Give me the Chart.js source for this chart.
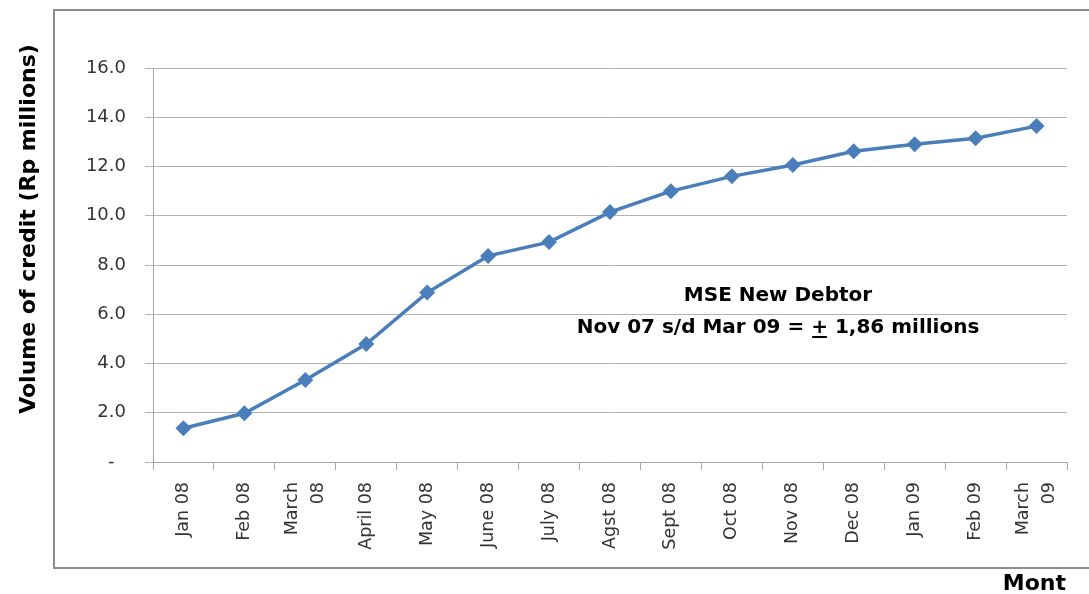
<!DOCTYPE html>
<html>
<head>
<meta charset="utf-8">
<script src="https://cdn.jsdelivr.net/npm/chart.js@4/dist/chart.umd.min.js"></script>
<style>
  html, body { margin: 0; padding: 0; background: #ffffff; }
  #wrap { width: 1089px; height: 594px; position: relative; }
</style>
</head>
<body>
<div id="wrap"><canvas id="c" width="1089" height="594"></canvas></div>
<script>
const categories = ['Jan 08', 'Feb 08', ['March', '08'], 'April 08', 'May 08', 'June 08', 'July 08',
  'Agst 08', 'Sept 08', 'Oct 08', 'Nov 08', 'Dec 08', 'Jan 09', 'Feb 09', ['March', '09']];
const creditVolume = [1.37, 1.98, 3.33, 4.79, 6.88, 8.37, 8.93, 10.15, 11.0, 11.6, 12.06, 12.62, 12.9, 13.15, 13.64];
const yTickLabels = ['-  ', '2.0', '4.0', '6.0', '8.0', '10.0', '12.0', '14.0', '16.0'];
const yAxisTitle = 'Volume of credit (Rp millions)';
const xAxisTitle = 'Mont';
const noteLine1 = 'MSE New Debtor';
const notePrefix = 'Nov 07 s/d Mar 09 = ';
const notePlus = '+';
const noteSuffix = ' 1,86 millions';

const decor = {
  id: 'decor',
  beforeDraw(chart) {
    const ctx = chart.ctx;
    ctx.save();
    ctx.strokeStyle = '#8c8c8c';
    ctx.lineWidth = 2;
    ctx.beginPath();
    ctx.moveTo(1095, 10);
    ctx.lineTo(54, 10);
    ctx.lineTo(54, 568);
    ctx.lineTo(1095, 568);
    ctx.stroke();
    ctx.restore();
    // centre multi-line rotated tick labels on their category
    const xs = chart.scales.x;
    const items = xs.getLabelItems();
    items.forEach(it => {
      if (Array.isArray(it.label) && !it._shifted) {
        const lh = xs.options.ticks.font.size * xs.options.ticks.font.lineHeight;
        it.options.translation[0] -= lh / 2;
        it._shifted = true;
      }
    });
  },
  afterDraw(chart) {
    const ctx = chart.ctx;
    ctx.save();
    ctx.fillStyle = '#000000';
    // y title
    ctx.save();
    ctx.translate(29, 229);
    ctx.rotate(-Math.PI / 2);
    ctx.font = 'bold 22px "DejaVu Sans"';
    ctx.textAlign = 'center';
    ctx.textBaseline = 'middle';
    ctx.fillText(yAxisTitle, 0, 0);
    ctx.restore();
    // x title
    ctx.font = 'bold 22px "DejaVu Sans"';
    ctx.textAlign = 'right';
    ctx.textBaseline = 'alphabetic';
    ctx.fillText(xAxisTitle, 1066, 590);
    // annotation
    const cx = 778;
    ctx.font = 'bold 20px "DejaVu Sans"';
    ctx.textAlign = 'center';
    ctx.fillText(noteLine1, cx, 301);
    const full = notePrefix + notePlus + noteSuffix;
    const w = ctx.measureText(full).width;
    const x0 = cx - w / 2;
    ctx.textAlign = 'left';
    ctx.fillText(full, x0, 333);
    const px = x0 + ctx.measureText(notePrefix).width;
    const pw = ctx.measureText(notePlus).width;
    ctx.fillRect(px + 1, 336, pw - 2, 2);
    ctx.restore();
  }
};

new Chart(document.getElementById('c'), {
  type: 'line',
  data: {
    labels: categories,
    datasets: [{
      label: 'Volume of credit',
      data: creditVolume,
      borderColor: '#4a7ebb',
      backgroundColor: '#4a7ebb',
      borderWidth: 3.5,
      pointStyle: 'rectRot',
      pointRadius: 8,
      pointHoverRadius: 8,
      pointBorderWidth: 0,
      pointBackgroundColor: '#4a7ebb',
      tension: 0,
      fill: false
    }]
  },
  options: {
    responsive: false,
    animation: false,
    events: [],
    layout: { padding: { left: 0, top: 68, right: 22, bottom: 0 } },
    plugins: { legend: { display: false }, tooltip: { enabled: false }, title: { display: false } },
    scales: {
      x: {
        type: 'category',
        offset: true,
        grid: { display: true, offset: true, drawOnChartArea: false, drawTicks: true, tickLength: 8, color: '#a6a6a6', lineWidth: 1 },
        border: { display: true, color: '#a6a6a6', width: 1 },
        ticks: {
          autoSkip: false, maxRotation: 90, minRotation: 90, padding: 12,
          color: '#333333',
          font: { family: '"DejaVu Sans"', size: 17.5, lineHeight: 1.5 }
        },
        afterFit(scale) { scale.height = 132; scale.paddingLeft = 0; scale.paddingRight = 0; }
      },
      y: {
        min: 0, max: 16,
        grid: { color: '#b3b3b3', lineWidth: 1, drawTicks: true, tickLength: 8 },
        border: { display: true, color: '#a6a6a6', width: 1 },
        ticks: {
          stepSize: 2, padding: 19, color: '#333333',
          font: { family: '"DejaVu Sans"', size: 18 },
          callback: (v, i) => yTickLabels[i]
        },
        afterFit(scale) { scale.width = 153; scale.paddingTop = 0; scale.paddingBottom = 0; }
      }
    }
  },
  plugins: [decor]
});
</script>
</body>
</html>
